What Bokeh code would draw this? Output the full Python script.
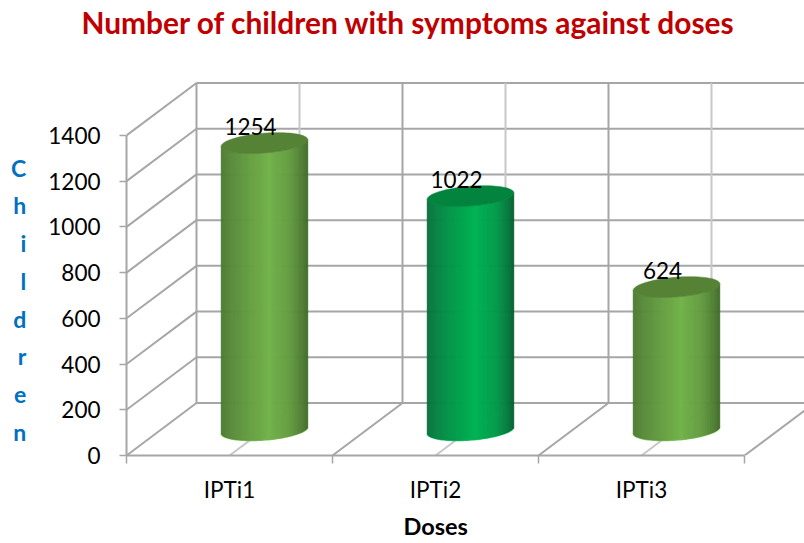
import numpy as np
from bokeh.plotting import figure
from bokeh.models import FixedTicker, Range1d, Title, LinearAxis
from bokeh.core.properties import value
from bokeh.embed import file_html
from bokeh.resources import INLINE

# ---- data ----
categories = ["IPTi1", "IPTi2", "IPTi3"]
children = [1254, 1022, 624]
y_ticks = [0, 200, 400, 600, 800, 1000, 1200, 1400]
title_text = "Number of children with symptoms against doses"
x_title = "Doses"
y_title_letters = ["C", "h", "i", "l", "d", "r", "e", "n"]

# ---- scale: pixels per data unit ----
PX_X = 206.0            # px per category
PX_Y = 46.2 / 200.0     # px per child
def dx(px): return px / PX_X
def dy(px): return px / PX_Y

DEPTH_X, DEPTH_Y = dx(70), dy(53)
W, H = 804, 543
LEFT, TOP, BOTTOM = 126, 64, 88
FONT = "Lato"
GRID = "#A6A6A6"
LIGHT = "#C8C8C8"

p = figure(width=W, height=H, output_backend="svg", toolbar_location=None,
           x_range=Range1d(0, (W - LEFT) / PX_X), y_range=Range1d(0, dy(H - BOTTOM - TOP)),
           min_border_left=LEFT, min_border_right=0, min_border_top=TOP, min_border_bottom=BOTTOM,
           background_fill_color="white", border_fill_color="white", outline_line_color=None)
p.grid.visible = False

n = len(categories)
# back wall
xr = n + DEPTH_X + 1
p.segment([DEPTH_X] * len(y_ticks), [v + DEPTH_Y for v in y_ticks],
          [xr] * len(y_ticks), [v + DEPTH_Y for v in y_ticks], line_color=GRID, line_width=2)
# light mid-category lines (wall and floor)
mids = [i + 0.5 for i in range(n)]
p.segment([m + DEPTH_X for m in mids], [DEPTH_Y] * n, [m + DEPTH_X for m in mids],
          [y_ticks[-1] + DEPTH_Y] * n, line_color=LIGHT, line_width=2)
p.segment(mids, [0] * n, [m + DEPTH_X for m in mids], [DEPTH_Y] * n, line_color=LIGHT, line_width=2)
# back verticals
p.segment([i + DEPTH_X for i in range(n + 1)], [DEPTH_Y] * (n + 1),
          [i + DEPTH_X for i in range(n + 1)], [y_ticks[-1] + DEPTH_Y] * (n + 1),
          line_color=GRID, line_width=2)
# side wall diagonals
p.segment([0] * len(y_ticks), y_ticks, [DEPTH_X] * len(y_ticks),
          [v + DEPTH_Y for v in y_ticks], line_color=GRID, line_width=2)
# floor diagonals
p.segment([i for i in range(1, n + 1)], [0] * n, [i + DEPTH_X for i in range(1, n + 1)],
          [DEPTH_Y] * n, line_color=GRID, line_width=2)

# ---- cylinders ----
def hexrgb(h): return np.array([int(h[i:i + 2], 16) for i in (1, 3, 5)], float)
def ramp(t, stops):
    ts = [s[0] for s in stops]
    cols = np.array([hexrgb(s[1]) for s in stops])
    c = [np.interp(t, ts, cols[:, j]) for j in range(3)]
    return "#%02x%02x%02x" % tuple(int(round(v)) for v in c)

GREEN = dict(stops=[(0, "#4C7A30"), (0.12, "#588A3A"), (0.35, "#68A144"), (0.55, "#73B44C"),
                    (0.8, "#639B40"), (0.93, "#4F7F33"), (1, "#3F6A29")],
             top="#558235", rim="#82C05A")
VIVID = dict(stops=[(0, "#06703C"), (0.12, "#058444"), (0.35, "#02A04C"), (0.55, "#00B455"),
                    (0.8, "#029A4A"), (0.93, "#047A3C"), (1, "#03602E")],
             top="#03843E", rim="#20C070")
styles = [GREEN, VIVID, GREEN]

A_PX, B_PX, K_PX = 43.3, 10.0, 3.3
BASE = dy(26)
centres = [i + 0.5 + dx(35) for i in range(n)]
STRIPS = 87

for v, cx, st in zip(children, centres, styles):
    top = BASE + v
    t = np.linspace(np.pi, 2 * np.pi, 60)
    xb = cx + dx(A_PX * np.cos(t))
    yb = BASE + dy(K_PX * np.cos(t) + B_PX * np.sin(t))
    p.line(xb.tolist(), (yb - dy(0.3)).tolist(), line_color=st["rim"], line_width=1.5)
    xs, ys, cols = [], [], []
    edges = np.linspace(-1, 1, STRIPS + 1)
    for a, b in zip(edges[:-1], edges[1:]):
        seg = np.linspace(a, b, 3)
        th = np.sqrt(np.clip(1 - seg ** 2, 0, 1))
        low = dy(K_PX * seg - B_PX * th)
        xx = cx + dx(A_PX * seg)
        xs.append(xx.tolist() + xx[::-1].tolist())
        ys.append((BASE + low).tolist() + (top + low)[::-1].tolist())
        cols.append(ramp((a + b + 2) / 4, st["stops"]))
    p.patches(xs, ys, fill_color=cols, line_color=cols, line_width=0.6)
    t = np.linspace(0, 2 * np.pi, 80)
    p.patch((cx + dx(A_PX * np.cos(t))).tolist(),
            (top + dy(K_PX * np.cos(t) + B_PX * np.sin(t))).tolist(),
            fill_color=st["top"], line_color=st["top"], line_width=0.5)

# value labels
p.text([c - dx(14) for c in centres], [BASE + v + dy(17) for v in children],
       text=[str(v) for v in children], text_font=value(FONT), text_font_size="22.5px",
       text_align="center", text_baseline="middle", text_color="black")

# ---- axes ----
ya = p.yaxis[0]
ya.ticker = FixedTicker(ticks=y_ticks)
ya.bounds = (0, y_ticks[-1])
ya.axis_line_color = GRID; ya.axis_line_width = 2
ya.major_tick_line_color = GRID; ya.major_tick_line_width = 1.5
ya.major_tick_in = 0; ya.major_tick_out = 7
ya.minor_tick_line_color = None
ya.major_label_standoff = 19
ya.major_label_text_font = FONT; ya.major_label_text_font_size = "22.5px"
ya.major_label_text_color = "black"
# stacked axis title; the two leading blank lines move it down from the frame centre
ya.axis_label = "\n\n" + "\n".join(y_title_letters)
ya.axis_label_orientation = "horizontal"
ya.axis_label_text_font = FONT; ya.axis_label_text_font_size = "23px"
ya.axis_label_text_font_style = "bold"; ya.axis_label_text_color = "#0070C0"
ya.axis_label_text_line_height = 1.349
ya.axis_label_standoff = 19

xa = p.xaxis[0]
xa.ticker = FixedTicker(ticks=mids, minor_ticks=list(range(n + 1)))
xa.bounds = (0, n)
xa.major_label_overrides = {m: c for m, c in zip(mids, categories)}
xa.axis_line_color = GRID; xa.axis_line_width = 2
xa.major_tick_line_color = None
xa.major_tick_in = 0; xa.major_tick_out = 8
xa.minor_tick_line_color = GRID; xa.minor_tick_line_width = 1.5
xa.minor_tick_in = 0; xa.minor_tick_out = 8
xa.major_label_standoff = 12
xa.major_label_text_font = FONT; xa.major_label_text_font_size = "22.5px"
xa.major_label_text_color = "black"

# "Doses" sits at the middle of the three categories, not of the frame
p.add_layout(Title(text=x_title, text_font=FONT, text_font_size="23.5px", text_font_style="bold",
                   text_color="black", align="left", offset=277, standoff=8,
                   vertical_align="bottom"), "below")

# ---- chart title: an unlined top axis, so that it can be centred left of the frame centre ----
title_pos = dx(408 - LEFT)
p.add_layout(LinearAxis(ticker=FixedTicker(ticks=[title_pos]),
                        major_label_overrides={title_pos: title_text},
                        axis_line_color=None, major_tick_line_color=None,
                        minor_tick_line_color=None, major_tick_in=0, major_tick_out=0,
                        minor_tick_in=0, minor_tick_out=0, major_label_standoff=29,
                        major_label_text_font=FONT, major_label_text_font_size="29.9px",
                        major_label_text_font_style="bold", major_label_text_color="#C00000"),
             "above")

open("out.html", "w").write(file_html(p, INLINE))
